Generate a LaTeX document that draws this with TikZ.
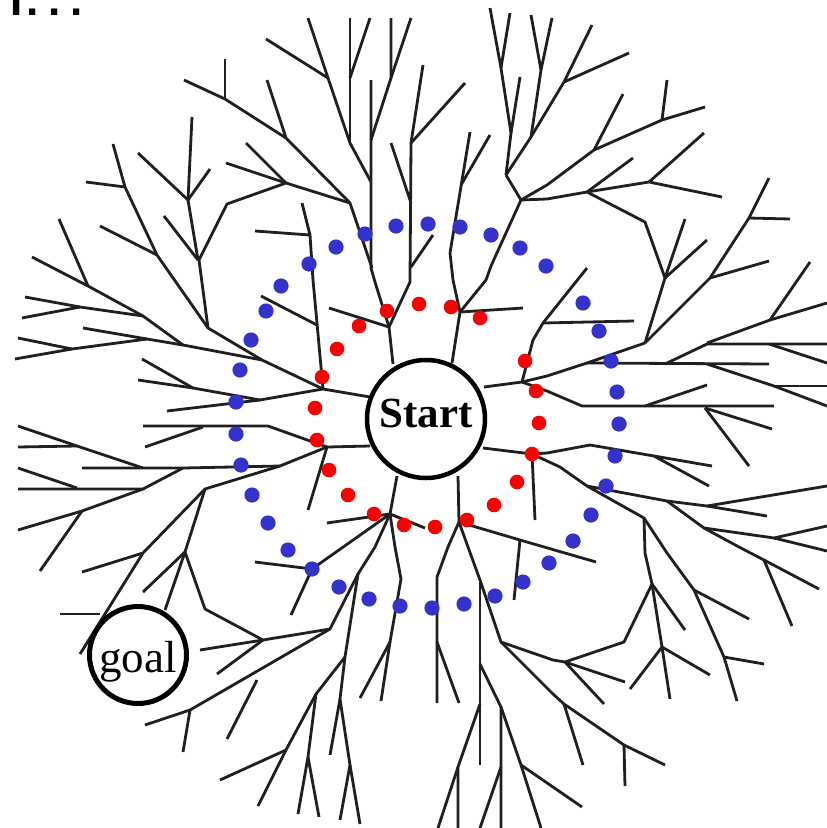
\documentclass[tikz,border=0pt]{standalone}
\usepackage{fontspec}
\setmainfont{Liberation Serif}
\newfontfamily\headfont{Liberation Sans}
\usetikzlibrary{calc, positioning, shapes.geometric}
\definecolor{dotblue}{RGB}{51,51,204}
\definecolor{dotred}{RGB}{250,0,0}

\begin{document}
\begin{tikzpicture}[
    x=1pt, y=-1pt,
    branch/.style={draw=black!88, line width=2.8pt},
    reddot/.style={fill=dotred},
    bluedot/.style={fill=dotblue},
    root/.style={draw=black, fill=white, circle, inner sep=0pt}
]
\useasboundingbox (0,0) rectangle (827,828);

% top left
\draw[branch] (184,80)--(225,99)--(286,138)--(350,203)--(372,268);
\draw[branch] (225,99)--(225,59);
\draw[branch] (267,80)--(286,138);
\draw[branch] (246,143)--(286,183);
\draw[branch] (226,163)--(286,183);
\draw[branch] (350,203)--(286,183)--(227,204)--(199,260)--(208,328);
\draw[branch] (192,117)--(188,200)--(198,260);
\draw[branch] (138,153)--(188,200);
\draw[branch] (210,169)--(188,200);
\draw[branch] (164,216)--(198,260);
\draw[branch] (113,144)--(125,187)--(157,255)--(208,328)--(262,360);
\draw[branch] (86,182)--(125,187);
\draw[branch] (100,226)--(157,255);
\draw[branch] (59,219)--(88,286);
\draw[branch] (32,257)--(88,286)--(143,316)--(183,345)--(262,360)--(323,389);
\draw[branch] (25,297)--(80,307)--(143,316);
\draw[branch] (22,318)--(80,307);
\draw[branch] (83,328)--(147,339)--(183,345);
\draw[branch] (18,338)--(72,349)--(147,339);
\draw[branch] (15,359)--(72,349);
\draw[branch] (255,231)--(310,235);
\draw[branch] (302,203)--(310,235)--(313,280)--(317,323)--(323,389);
\draw[branch] (261,296)--(317,325);
\draw[branch] (323,389)--(370,397);

% top
\draw[branch] (266,39)--(328,78)--(350,143)--(371,182);
\draw[branch] (308,18)--(328,78);
\draw[branch] (350,18)--(350,143);
\draw[branch] (370,18)--(350,78);
\draw[branch] (371,80)--(371,268)--(375,282)--(389,327)--(393,364);
\draw[branch] (391,18)--(391,78)--(371,140);
\draw[branch] (411,18)--(391,78);
\draw[branch] (329,308)--(389,327);
\draw[branch] (389,327)--(410,282)--(411,143);
\draw[branch] (391,143)--(411,203);
\draw[branch] (423,65)--(411,143);
\draw[branch] (465,83)--(411,143);
\draw[branch] (411,267)--(433,235);
\draw[branch] (470,132)--(450,253)--(453,280)--(460,312)--(452,363);
\draw[branch] (490,135)--(461,185);
\draw[branch] (460,312)--(523,308);
\draw[branch] (460,312)--(486,280)--(491,266)--(521,200)--(506,175);
\draw[branch] (490,8)--(501,68)--(511,133)--(506,175);
\draw[branch] (510,13)--(501,68);
\draw[branch] (520,77)--(511,133);
\draw[branch] (531,15)--(541,70)--(531,137)--(506,175);
\draw[branch] (552,18)--(541,70);
\draw[branch] (592,25)--(564,82)--(531,137);
\draw[branch] (629,53)--(564,82);

% top right
\draw[branch] (521,200)--(547,185)--(594,150)--(662,120)--(705,107);
\draw[branch] (623,94)--(594,150);
\draw[branch] (667,80)--(662,120);
\draw[branch] (521,200)--(547,199)--(587,192)--(649,182)--(722,197);
\draw[branch] (633,158)--(587,192);
\draw[branch] (704,133)--(649,182);
\draw[branch] (587,192)--(645,222)--(665,278)--(645,343);
\draw[branch] (685,219)--(665,278);
\draw[branch] (707,240)--(665,278);
\draw[branch] (769,178)--(749,218)--(710,278)--(645,343);
\draw[branch] (749,218)--(790,219);
\draw[branch] (769,261)--(710,278);
\draw[branch] (484,387)--(522,382)--(533,340)--(543,323)--(587,268);
\draw[branch] (543,323)--(634,321);
\draw[branch] (522,382)--(547,376)--(587,363)--(645,343);
\draw[branch] (587,363)--(769,364);
\draw[branch] (665,364)--(707,344)--(827,344);
\draw[branch] (769,344)--(827,363);
\draw[branch] (707,364)--(774,386)--(827,406);
\draw[branch] (774,386)--(827,386);
\draw[branch] (707,343)--(770,320)--(810,262);
\draw[branch] (770,320)--(827,303);
\draw[branch] (522,382)--(547,391)--(582,406)--(774,406);
\draw[branch] (645,406)--(707,385);
\draw[branch] (705,408)--(772,429);
\draw[branch] (705,408)--(749,466);

% bottom right
\draw[branch] (483,448)--(532,454)--(547,453)--(590,445)--(654,456)--(712,466);
\draw[branch] (654,456)--(709,486);
\draw[branch] (532,454)--(535,520);
\draw[branch] (532,454)--(560,467)--(587,486)--(644,518)--(667,553)--(694,590)--(724,657)--(737,701);
\draw[branch] (694,590)--(749,619);
\draw[branch] (724,657)--(764,664);
\draw[branch] (644,518)--(645,553)--(652,584)--(662,647)--(670,699);
\draw[branch] (652,584)--(685,630);
\draw[branch] (662,647)--(630,689);
\draw[branch] (662,647)--(710,675);
\draw[branch] (652,584)--(624,642)--(565,662);
\draw[branch] (587,486)--(667,501)--(707,506)--(767,516);
\draw[branch] (707,506)--(827,486);
\draw[branch] (667,501)--(704,528)--(774,538)--(827,526);
\draw[branch] (774,538)--(827,551);
\draw[branch] (704,528)--(739,547)--(764,560)--(819,589);
\draw[branch] (764,560)--(792,626);

% bottom
\draw[branch] (397,476)--(390,514)--(375,547)--(358,574)--(330,629)--(190,710)--(145,725);
\draw[branch] (390,514)--(327,523);
\draw[branch] (390,514)--(312,569)--(291,615);
\draw[branch] (255,562)--(312,569);
\draw[branch] (390,514)--(425,528);
\draw[branch] (390,514)--(395,547)--(401,579)--(390,642)--(360,698);
\draw[branch] (390,642)--(381,701);
\draw[branch] (358,574)--(345,657)--(340,699)--(330,755);
\draw[branch] (345,657)--(316,694)--(286,750)--(220,780);
\draw[branch] (286,750)--(258,806);
\draw[branch] (316,694)--(308,757)--(298,814);
\draw[branch] (308,757)--(319,817);
\draw[branch] (340,699)--(350,765)--(340,820);
\draw[branch] (350,765)--(360,824);
\draw[branch] (458,476)--(459,522)--(448,547)--(437,577)--(437,703);
\draw[branch] (437,642)--(459,703);
\draw[branch] (459,522)--(468,547)--(480,580)--(501,642)--(553,660)--(565,662)--(625,682);
\draw[branch] (565,662)--(604,704);
\draw[branch] (501,642)--(553,694)--(564,704)--(624,745)--(665,765);
\draw[branch] (564,704)--(583,765);
\draw[branch] (624,745)--(625,786);
\draw[branch] (480,580)--(480,765);
\draw[branch] (480,664)--(501,707)--(501,828);
\draw[branch] (501,707)--(521,765)--(541,828);
\draw[branch] (521,765)--(582,807);
\draw[branch] (480,704)--(458,767)--(458,828);
\draw[branch] (458,767)--(438,828);
\draw[branch] (501,767)--(480,828);
\draw[branch] (459,522)--(520,540)--(596,562);
\draw[branch] (520,540)--(514,600);

% left
\draw[branch] (370,446)--(327,447)--(280,466)--(183,468)--(82,468);
\draw[branch] (18,426)--(77,446)--(143,468);
\draw[branch] (18,447)--(77,446);
\draw[branch] (18,468)--(77,488);
\draw[branch] (18,489)--(143,489)--(183,468);
\draw[branch] (143,489)--(82,511)--(18,530);
\draw[branch] (82,511)--(40,571);
\draw[branch] (280,466)--(205,489)--(143,553)--(80,654);
\draw[branch] (82,572)--(143,553);
\draw[branch] (205,489)--(185,552)--(205,609)--(263,640)--(330,629);
\draw[branch] (185,552)--(143,592);
\draw[branch] (185,552)--(165,610);
\draw[branch] (200,650)--(263,640);
\draw[branch] (217,674)--(263,640);
\draw[branch] (60,614)--(100,614);
\draw[branch] (190,710)--(183,752);
\draw[branch] (227,739)--(257,680);
\draw[branch] (143,426)--(268,426)--(327,447);
\draw[branch] (145,447)--(203,427);
\draw[branch] (142,359)--(193,388)--(260,400)--(323,389);
\draw[branch] (138,380)--(193,388);
\draw[branch] (167,411)--(260,400);
\draw[branch] (327,447)--(308,510);

% start and goal
\node[root, minimum size=118pt, line width=4.5pt, text height=22pt, text depth=6pt,
      font=\fontsize{43}{43}\selectfont\bfseries] (start) at (426,419) {Start};
\node[root, minimum size=97pt, line width=5pt, text height=40pt, text depth=6pt,
      font=\fontsize{45}{45}\selectfont] (goal) at (138,655) {goal};
\node[anchor=base west, inner sep=0pt, font=\headfont\fontsize{44}{44}\selectfont\bfseries]
      (more) at (10,15) {I\kern4pt.\kern10pt.\kern10pt.};

% inner ring
\foreach \x/\y in {387/311, 419/304, 451/307, 480/318, 359/326, 337/349, 322/377,
    315/408, 317/440, 329/470, 348/495, 374/514, 404/525, 435/527, 467/520,
    494/505, 517/482, 532/454, 539/423, 536/391, 525/361}
  \fill[reddot] (\x,\y) circle[radius=7.3];

% outer ring
\foreach \x/\y in {309/264, 336/247, 365/234, 396/226, 428/224, 460/227, 491/235,
    520/248, 546/266, 583/303, 599/331, 611/361, 617/392, 619/424, 615/456,
    606/486, 591/515, 573/541, 549/563, 523/582, 495/596, 464/604, 432/608,
    400/606, 369/599, 339/587, 312/569, 288/550, 268/523, 252/495, 241/465,
    236/434, 236/402, 240/370, 251/340, 266/311, 281/286}
  \fill[bluedot] (\x,\y) circle[radius=7.6];
\end{tikzpicture}
\end{document}
